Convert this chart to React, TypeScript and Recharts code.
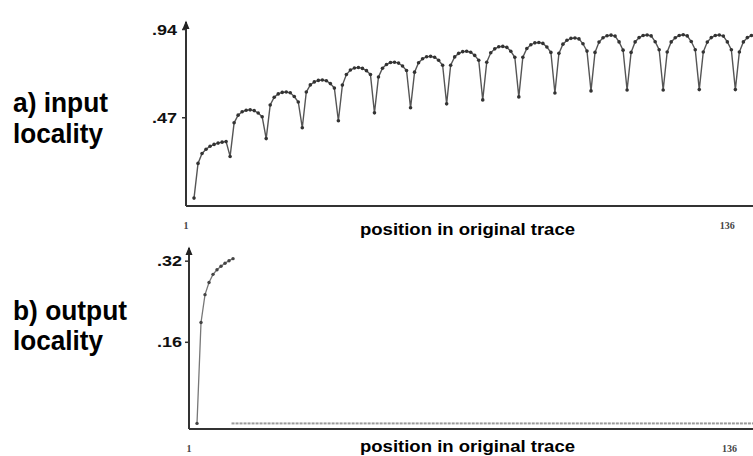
import React from 'react';
import { LineChart, Line, XAxis, YAxis, Label } from 'recharts';

// ---- data ----
const inputStart = 3; // first trace position plotted in (a)
const inputLocality = [
  0.042, 0.227, 0.280, 0.302, 0.318, 0.328, 0.335, 0.340, 0.343, 0.264,
  0.443, 0.484, 0.502, 0.510, 0.512, 0.508, 0.495, 0.475, 0.359,
  0.538, 0.579, 0.597, 0.605, 0.607, 0.603, 0.583, 0.554, 0.417,
  0.607, 0.645, 0.661, 0.669, 0.671, 0.667, 0.652, 0.628, 0.454,
  0.644, 0.700, 0.724, 0.735, 0.738, 0.733, 0.721, 0.700, 0.496,
  0.687, 0.734, 0.754, 0.764, 0.766, 0.761, 0.746, 0.722, 0.523,
  0.713, 0.763, 0.784, 0.795, 0.797, 0.792, 0.776, 0.750, 0.544,
  0.750, 0.794, 0.813, 0.822, 0.824, 0.819, 0.802, 0.776, 0.565,
  0.766, 0.816, 0.837, 0.848, 0.850, 0.845, 0.824, 0.792, 0.581,
  0.792, 0.839, 0.859, 0.869, 0.871, 0.866, 0.847, 0.818, 0.602,
  0.813, 0.862, 0.883, 0.893, 0.895, 0.890, 0.864, 0.825, 0.613,
  0.818, 0.873, 0.896, 0.907, 0.910, 0.905, 0.874, 0.830, 0.618,
  0.818, 0.874, 0.897, 0.908, 0.911, 0.906, 0.875, 0.832, 0.618,
  0.820, 0.874, 0.896, 0.908, 0.912, 0.906, 0.876, 0.832, 0.620,
  0.820, 0.873, 0.897, 0.908, 0.911, 0.905, 0.874, 0.832, 0.620,
  0.820, 0.874, 0.897, 0.908,
];

const outputStart = 3; // first trace position plotted in (b)
const outputLocality = [0, 0.199, 0.254, 0.278, 0.294, 0.303, 0.310, 0.316, 0.321, 0.325];

const outputTailStart = 12;
const outputTail = [
  0, 0, 0, 0, 0, 0, 0, 0, 0, 0, 0, 0, 0, 0, 0, 0, 0, 0, 0, 0,
  0, 0, 0, 0, 0, 0, 0, 0, 0, 0, 0, 0, 0, 0, 0, 0, 0, 0, 0, 0,
  0, 0, 0, 0, 0, 0, 0, 0, 0, 0, 0, 0, 0, 0, 0, 0, 0, 0, 0, 0,
  0, 0, 0, 0, 0, 0, 0, 0, 0, 0, 0, 0, 0, 0, 0, 0, 0, 0, 0, 0,
  0, 0, 0, 0, 0, 0, 0, 0, 0, 0, 0, 0, 0, 0, 0, 0, 0, 0, 0, 0,
  0, 0, 0, 0, 0, 0, 0, 0, 0, 0, 0, 0, 0, 0, 0, 0, 0, 0, 0, 0,
  0, 0, 0, 0, 0, 0, 0, 0, 0, 0, 0,
];

const xTicks = [1, 136];
const inputTicks = [0.47, 0.94];
const outputTicks = [0.16, 0.32];
const xTitle = 'position in original trace';
const panelA = ['a) input', 'locality'];
const panelB = ['b) output', 'locality'];

// ---- derived tables ----
const inputData = inputLocality.map((v, i) => ({ pos: inputStart + i, value: v }));

const outputMap: Record<number, any> = {};
outputLocality.forEach((v, i) => {
  const p = outputStart + i;
  outputMap[p] = { ...(outputMap[p] || { pos: p }), curve: v };
});
outputTail.forEach((v, i) => {
  const p = outputTailStart + i;
  outputMap[p] = { ...(outputMap[p] || { pos: p }), tail: v };
});
const outputData = Object.keys(outputMap)
  .map(Number)
  .sort((a, b) => a - b)
  .map((k) => outputMap[k]);

const SANS = '"Liberation Sans", Arial, Helvetica, sans-serif';
const SERIF = '"Liberation Serif", "Times New Roman", serif';

const fmt = (v: number) => v.toFixed(2).replace(/^0/, '');

const YTick = (props: any) => {
  const { x, y, payload } = props;
  return (
    <text x={x} y={y + 5} textAnchor="end" fontFamily={SANS} fontWeight="bold" fontSize={14}
      fill="#111" textLength={25} lengthAdjust="spacingAndGlyphs">
      {fmt(payload.value)}
    </text>
  );
};

const XTick = (props: any) => {
  const { x, y, payload } = props;
  return (
    <text x={x} y={y + 23} textAnchor="middle" fontFamily={SERIF} fontWeight="bold" fontSize={10} fill="#444">
      {payload.value}
    </text>
  );
};

const arrowHead = (props: any) => {
  const vb = props.viewBox || {};
  const ax = (vb.x || 0) + (vb.width || 0);
  const ay = vb.y || 0;
  return <polygon points={`${ax - 3.5},${ay + 7} ${ax},${ay - 1.5} ${ax + 3.5},${ay + 7}`} fill="#222" />;
};

const tailDash = (p: any) => (
  <rect key={`tail-${p.index}`} x={p.cx - 1.5} y={p.cy - 1} width={3} height={2} fill="#9a9a9a" />
);

const axisLine = { stroke: '#333', strokeWidth: 2 };

export default function App() {
  return (
    <div style={{ position: 'absolute', left: 0, top: 0, width: 753, height: 456, background: '#fff', overflow: 'hidden' }}>
      <div style={{ position: 'absolute', left: 0, top: 0 }}>
        <LineChart width={753} height={240} data={inputData} margin={{ top: 22, right: 0, bottom: 0, left: 0 }}>
          <XAxis dataKey="pos" type="number" domain={[1, 142.4]} ticks={xTicks} allowDataOverflow
            height={34} tickSize={0} tickMargin={0} tickLine={false} axisLine={axisLine} tick={<XTick />} />
          <YAxis type="number" domain={[0, 0.98]} ticks={inputTicks} allowDataOverflow width={186}
            tickSize={4} tickMargin={5} tickLine={{ stroke: '#333', strokeWidth: 1.5 }} axisLine={axisLine} tick={<YTick />}>
            <Label content={arrowHead} />
          </YAxis>
          <Line type="linear" dataKey="value" stroke="#555" strokeWidth={1.4}
            dot={{ r: 1.8, fill: '#333', stroke: 'none' }} isAnimationActive={false} />
        </LineChart>
      </div>
      <div style={{ position: 'absolute', left: 0, top: 230 }}>
        <LineChart width={753} height={226} data={outputData} margin={{ top: 18, right: 0, bottom: 0, left: 0 }}>
          <XAxis dataKey="pos" type="number" domain={[1, 141.9]} ticks={xTicks} allowDataOverflow
            height={27} tickSize={0} tickMargin={0} tickLine={false} axisLine={axisLine} tick={<XTick />} />
          <YAxis type="number" domain={[-0.011, 0.346]} ticks={outputTicks} allowDataOverflow width={189}
            tickSize={4} tickMargin={3} tickLine={{ stroke: '#333', strokeWidth: 1.5 }} axisLine={axisLine} tick={<YTick />}>
            <Label content={arrowHead} />
          </YAxis>
          <Line type="linear" dataKey="curve" stroke="#777" strokeWidth={1.3} connectNulls={false}
            dot={{ r: 1.7, fill: '#444', stroke: 'none' }} isAnimationActive={false} />
          <Line type="linear" dataKey="tail" stroke="none" connectNulls={false}
            dot={tailDash} isAnimationActive={false} />
        </LineChart>
      </div>
      <svg width={753} height={456} style={{ position: 'absolute', left: 0, top: 0, pointerEvents: 'none' }}>
        <text x={13} y={112} fontFamily={SANS} fontWeight="bold" fontSize={27} fill="#000" textLength={95} lengthAdjust="spacingAndGlyphs">{panelA[0]}</text>
        <text x={13} y={143} fontFamily={SANS} fontWeight="bold" fontSize={27} fill="#000" textLength={90} lengthAdjust="spacingAndGlyphs">{panelA[1]}</text>
        <text x={13} y={320} fontFamily={SANS} fontWeight="bold" fontSize={27} fill="#000" textLength={114} lengthAdjust="spacingAndGlyphs">{panelB[0]}</text>
        <text x={13} y={350} fontFamily={SANS} fontWeight="bold" fontSize={27} fill="#000" textLength={90} lengthAdjust="spacingAndGlyphs">{panelB[1]}</text>
        <text x={360} y={235} fontFamily={SANS} fontWeight="bold" fontSize={16} fill="#000" textLength={215} lengthAdjust="spacingAndGlyphs">{xTitle}</text>
        <text x={360} y={452} fontFamily={SANS} fontWeight="bold" fontSize={16} fill="#000" textLength={215} lengthAdjust="spacingAndGlyphs">{xTitle}</text>
      </svg>
    </div>
  );
}
